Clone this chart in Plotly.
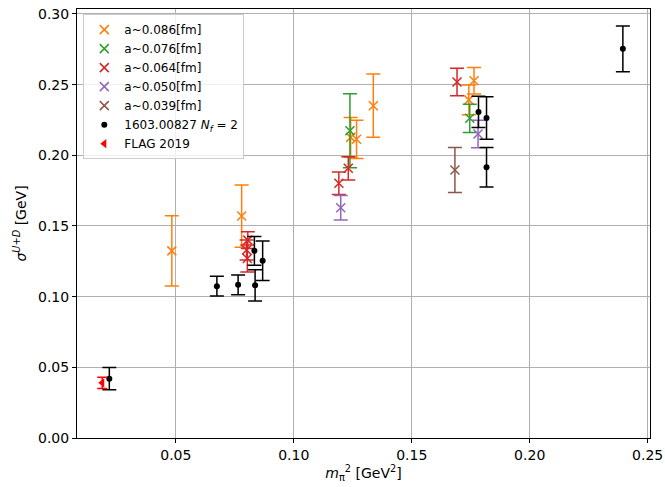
import plotly.graph_objects as go

# ---- data ----
a086_x = [0.0483, 0.0779, 0.1241, 0.1266, 0.1337, 0.1742, 0.1764]
a086_y = [0.1324, 0.1570, 0.2127, 0.2113, 0.2351, 0.2392, 0.2528]
a086_e = [0.0248, 0.0220, 0.0140, 0.0135, 0.0224, 0.0106, 0.0094]

a076_x = [0.1238, 0.1746]
a076_y = [0.2174, 0.2262]
a076_e = [0.0262, 0.0100]

a064_x = [0.0805, 0.0800, 0.0803, 0.1191, 0.1231, 0.1692]
a064_y = [0.1400, 0.1330, 0.1270, 0.1802, 0.1908, 0.2519]
a064_e = [0.0060, 0.0070, 0.0095, 0.0080, 0.0082, 0.0097]

a050_x = [0.1199, 0.1781]
a050_y = [0.1629, 0.2151]
a050_e = [0.0087, 0.0097]

a039_x = [0.1683]
a039_y = [0.1896]
a039_e = [0.0160]

ref_x = [0.0218, 0.0674, 0.0764, 0.0833, 0.0836, 0.0868, 0.1783, 0.1817, 0.1817, 0.2395]
ref_y = [0.0420, 0.1074, 0.1084, 0.1324, 0.1080, 0.1254, 0.2307, 0.2264, 0.1915, 0.2753]
ref_e = [0.0078, 0.0070, 0.0070, 0.0101, 0.0110, 0.0140, 0.0110, 0.0150, 0.0140, 0.0162]

flag_x = [0.0188]
flag_y = [0.0390]
flag_e = [0.0040]

series = [
    ("a~0.086[fm]", a086_x, a086_y, a086_e, "#ff7f0e"),
    ("a~0.076[fm]", a076_x, a076_y, a076_e, "#2ca02c"),
    ("a~0.064[fm]", a064_x, a064_y, a064_e, "#d62728"),
    ("a~0.050[fm]", a050_x, a050_y, a050_e, "#9467bd"),
    ("a~0.039[fm]", a039_x, a039_y, a039_e, "#8c564b"),
]

fig = go.Figure()
for name, xs, ys, es, col in series:
    fig.add_trace(go.Scatter(
        x=xs, y=ys, mode="markers", name=name,
        marker=dict(symbol="x-thin-open", size=9, color=col, line=dict(width=1.5, color=col)),
        error_y=dict(type="data", array=es, visible=True, color=col, thickness=1.5, width=7),
    ))

fig.add_trace(go.Scatter(
    x=ref_x, y=ref_y, mode="markers", name="1603.00827 <i>N<sub>f</sub></i> = 2",
    marker=dict(symbol="circle", size=6, color="black"),
    error_y=dict(type="data", array=ref_e, visible=True, color="black", thickness=1.5, width=7),
))
fig.add_trace(go.Scatter(
    x=flag_x, y=flag_y, mode="markers", name="FLAG 2019",
    marker=dict(symbol="triangle-left", size=8, color="red"),
    error_y=dict(type="data", array=flag_e, visible=True, color="red", thickness=1.5, width=5),
))

axis_common = dict(
    showline=True, linecolor="black", linewidth=1, mirror=True,
    ticks="outside", ticklen=4, tickcolor="black",
    showgrid=True, gridcolor="#b0b0b0", gridwidth=1,
    zeroline=False, tickformat=".2f", automargin=False,
    tickfont=dict(family="DejaVu Sans", size=14, color="black"),
)

fig.update_layout(
    width=665, height=487,
    margin=dict(l=77, r=15, t=9, b=49),
    plot_bgcolor="white", paper_bgcolor="white",
    font=dict(family="DejaVu Sans", size=13, color="black"),
    xaxis=dict(range=[0.0081, 0.251], tickvals=[0.05, 0.10, 0.15, 0.20, 0.25],
               title=dict(text="<i>m</i><sub>π</sub><sup>2</sup> [GeV<sup>2</sup>]", standoff=6,
                          font=dict(family="DejaVu Sans", size=14)),
               **axis_common),
    yaxis=dict(range=[0, 0.3035], tickvals=[0, 0.05, 0.10, 0.15, 0.20, 0.25, 0.30],
               title=dict(text="<i>σ</i><sup><i>U</i>+<i>D</i></sup> [GeV]", standoff=8,
                          font=dict(family="DejaVu Sans", size=14)),
               **axis_common),
    legend=dict(x=0.011, y=0.988, xanchor="left", yanchor="top",
                bgcolor="rgba(255,255,255,0.8)", bordercolor="#cccccc", borderwidth=1,
                font=dict(family="DejaVu Sans", size=12), tracegroupgap=0,
                itemwidth=30),
    showlegend=True,
)

fig.write_html("out.html")
